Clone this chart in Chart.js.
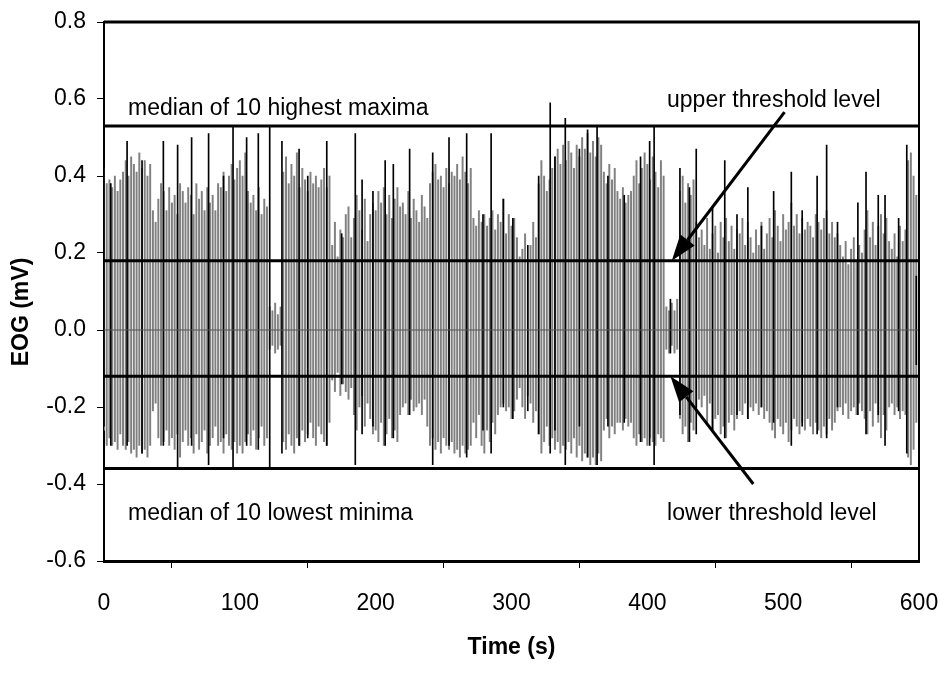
<!DOCTYPE html>
<html>
<head>
<meta charset="utf-8">
<script src="https://cdn.jsdelivr.net/npm/chart.js@4/dist/chart.umd.min.js"></script>
<style>
  body { margin: 0; background: #fff; }
  #wrap { width: 946px; height: 677px; position: relative; }
</style>
</head>
<body>
<div id="wrap"><canvas id="chart"></canvas></div>
<script>
// EOG trace (one reading every 2 s)
const STEP = 2;
const grayHi = [
  0.42,0.38,0.39,0.37,0.40,0.36,0.39,0.41,0.44,0.40,
  0.45,0.43,0.41,0.46,0.42,0.44,0.40,0.43,0.31,0.28,
  0.34,0.38,0.36,0.31,0.37,0.33,0.35,0.30,0.38,0.36,
  0.33,0.37,0.35,0.30,0.38,0.34,0.36,0.31,0.37,0.33,
  0.35,0.31,0.38,0.37,0.41,0.36,0.40,0.43,0.39,0.42,
  0.44,0.40,0.46,0.36,0.33,0.35,0.31,0.37,0.30,0.34,
  0.32,0.06,0.05,0.07,0.04,0.06,0.41,0.45,0.38,0.43,
  0.40,0.46,0.37,0.42,0.39,0.36,0.41,0.38,0.40,0.37,
  0.39,0.42,0.37,0.40,0.22,0.28,0.19,0.26,0.24,0.30,
  0.32,0.24,0.29,0.35,0.31,0.26,0.34,0.23,0.30,0.33,
  0.31,0.36,0.33,0.37,0.30,0.35,0.29,0.34,0.37,0.32,
  0.33,0.30,0.36,0.29,0.34,0.31,0.28,0.35,0.32,0.29,
  0.38,0.41,0.43,0.39,0.40,0.37,0.42,0.38,0.41,0.40,
  0.43,0.39,0.45,0.41,0.38,0.42,0.29,0.27,0.31,0.28,
  0.30,0.27,0.29,0.31,0.26,0.30,0.28,0.34,0.25,0.30,
  0.27,0.29,0.24,0.19,0.21,0.25,0.18,0.22,0.28,0.24,
  0.38,0.44,0.40,0.36,0.39,0.42,0.45,0.47,0.43,0.48,
  0.44,0.49,0.46,0.42,0.48,0.45,0.50,0.47,0.51,0.46,
  0.49,0.45,0.50,0.48,0.41,0.38,0.43,0.39,0.42,0.36,
  0.34,0.37,0.33,0.35,0.36,0.40,0.44,0.38,0.42,0.46,
  0.43,0.39,0.45,0.41,0.37,0.44,0.40,0.06,0.05,0.07,
  0.05,0.08,0.36,0.40,0.33,0.38,0.35,0.39,0.28,0.24,
  0.26,0.22,0.29,0.21,0.25,0.27,0.20,0.28,0.24,0.29,
  0.23,0.27,0.21,0.26,0.25,0.29,0.22,0.28,0.24,0.20,
  0.26,0.22,0.28,0.21,0.25,0.29,0.24,0.31,0.27,0.23,
  0.30,0.26,0.28,0.33,0.27,0.30,0.25,0.29,0.26,0.28,
  0.27,0.24,0.30,0.28,0.26,0.29,0.31,0.25,0.28,0.24,
  0.25,0.22,0.19,0.23,0.17,0.21,0.24,0.18,0.22,0.20,
  0.26,0.31,0.24,0.28,0.22,0.27,0.30,0.25,0.29,0.23,
  0.21,0.25,0.19,0.27,0.23,0.26,0.44,0.46,0.40,0.35,
  0.08
];
const grayLo = [
  -0.26,-0.30,-0.28,-0.30,-0.29,-0.31,-0.27,-0.30,-0.31,-0.29,
  -0.32,-0.31,-0.33,-0.30,-0.32,-0.31,-0.33,-0.30,-0.21,-0.19,
  -0.28,-0.30,-0.29,-0.26,-0.30,-0.28,-0.31,-0.27,-0.33,-0.29,
  -0.26,-0.30,-0.28,-0.32,-0.27,-0.31,-0.29,-0.26,-0.32,-0.30,
  -0.28,-0.25,-0.30,-0.29,-0.32,-0.27,-0.30,-0.31,-0.29,-0.32,
  -0.30,-0.32,-0.29,-0.27,-0.30,-0.26,-0.31,-0.28,-0.25,-0.30,
  -0.28,-0.05,-0.04,-0.06,-0.05,-0.04,-0.29,-0.31,-0.27,-0.30,
  -0.32,-0.28,-0.30,-0.26,-0.29,-0.27,-0.24,-0.28,-0.30,-0.25,
  -0.27,-0.29,-0.30,-0.24,-0.13,-0.16,-0.11,-0.17,-0.14,-0.16,
  -0.18,-0.15,-0.22,-0.26,-0.20,-0.17,-0.25,-0.19,-0.23,-0.27,
  -0.26,-0.29,-0.24,-0.30,-0.27,-0.23,-0.28,-0.26,-0.29,-0.22,
  -0.20,-0.19,-0.22,-0.18,-0.21,-0.20,-0.19,-0.22,-0.18,-0.25,
  -0.30,-0.28,-0.31,-0.29,-0.32,-0.28,-0.30,-0.31,-0.29,-0.32,
  -0.31,-0.33,-0.30,-0.32,-0.31,-0.30,-0.24,-0.28,-0.22,-0.30,
  -0.32,-0.26,-0.29,-0.24,-0.27,-0.22,-0.20,-0.19,-0.21,-0.20,
  -0.23,-0.21,-0.18,-0.15,-0.20,-0.23,-0.17,-0.19,-0.24,-0.21,
  -0.27,-0.32,-0.29,-0.25,-0.30,-0.28,-0.31,-0.29,-0.32,-0.30,
  -0.31,-0.29,-0.32,-0.28,-0.33,-0.30,-0.34,-0.32,-0.33,-0.35,
  -0.33,-0.35,-0.32,-0.34,-0.26,-0.23,-0.28,-0.25,-0.27,-0.24,
  -0.24,-0.26,-0.23,-0.25,-0.24,-0.28,-0.30,-0.27,-0.29,-0.28,
  -0.30,-0.28,-0.29,-0.30,-0.27,-0.28,-0.29,-0.05,-0.06,-0.04,
  -0.06,-0.05,-0.23,-0.27,-0.25,-0.29,-0.24,-0.26,-0.20,-0.18,
  -0.20,-0.17,-0.24,-0.19,-0.26,-0.23,-0.22,-0.27,-0.25,-0.28,
  -0.24,-0.22,-0.26,-0.23,-0.21,-0.22,-0.19,-0.23,-0.20,-0.21,
  -0.19,-0.22,-0.20,-0.23,-0.21,-0.24,-0.26,-0.28,-0.23,-0.25,
  -0.27,-0.24,-0.29,-0.26,-0.23,-0.25,-0.27,-0.24,-0.26,-0.23,
  -0.25,-0.27,-0.24,-0.26,-0.28,-0.25,-0.27,-0.23,-0.26,-0.24,
  -0.21,-0.20,-0.22,-0.19,-0.23,-0.21,-0.20,-0.22,-0.19,-0.21,
  -0.23,-0.27,-0.21,-0.25,-0.19,-0.24,-0.28,-0.22,-0.26,-0.20,
  -0.19,-0.22,-0.20,-0.23,-0.21,-0.22,-0.33,-0.35,-0.31,-0.24,
  -0.06
];

// darker single saccades drawn in black
const blackT  = [0, 5, 17, 28, 43.7, 54.2, 64.5, 77, 88, 95, 105, 113.6, 122, 131, 143.6, 150, 164, 175, 185, 190,
  198, 207, 213, 225, 242, 254, 267, 279, 285, 294, 301, 312, 320, 328.5, 332, 339.6, 350, 356, 363, 371,
  383, 395, 401.7, 405, 417, 424, 431, 436, 448, 457, 466, 474, 484, 493, 506, 514, 525, 532, 540, 555,
  561, 570, 575, 585, 591, 598];
const blackHi = [0.45, 0.38, 0.49, 0.44, 0.49, 0.48, 0.50, 0.51, 0.40, 0.53, 0.50, 0.51, 0.53, 0.49, 0.47, 0.40, 0.49, 0.25, 0.51, 0.39,
  0.36, 0.44, 0.43, 0.47, 0.46, 0.50, 0.51, 0.30, 0.51, 0.34, 0.29, 0.22, 0.40, 0.59, 0.45, 0.55, 0.47, 0.52, 0.53, 0.40,
  0.35, 0.45, 0.49, 0.53, 0.08, 0.42, 0.37, 0.47, 0.32, 0.44, 0.30, 0.37, 0.27, 0.36, 0.41, 0.31, 0.40, 0.48, 0.28, 0.33,
  0.41, 0.35, 0.35, 0.29, 0.48, 0.14];
const blackLo = [-0.25, -0.30, -0.30, -0.32, -0.30, -0.36, -0.30, -0.35, -0.28, -0.36, -0.30, -0.31, -0.36, -0.32, -0.30, -0.28, -0.30, -0.14, -0.35, -0.27,
  -0.25, -0.30, -0.28, -0.22, -0.35, -0.30, -0.33, -0.26, -0.32, -0.20, -0.23, -0.21, -0.27, -0.32, -0.26, -0.35, -0.25, -0.33, -0.35, -0.25,
  -0.24, -0.29, -0.30, -0.35, -0.06, -0.22, -0.29, -0.27, -0.26, -0.28, -0.22, -0.23, -0.20, -0.24, -0.30, -0.25, -0.27, -0.28, -0.20, -0.22,
  -0.27, -0.22, -0.30, -0.21, -0.32, -0.09];

// reference levels (mV)
const maxMedian = 0.53;
const upperThreshold = 0.18;
const lowerThreshold = -0.12;
const minMedian = -0.36;

const xTicks = [0, 100, 200, 300, 400, 500, 600];
const yTicks = [-0.6, -0.4, -0.2, 0.0, 0.2, 0.4, 0.6, 0.8];

const FONT = 'Arial, "Liberation Sans", sans-serif';

const grayData = grayHi.map((hi, i) => ({ x: i * STEP, y: [grayLo[i], hi] }));
const blackData = blackT.map((t, i) => ({ x: t, y: [blackLo[i], blackHi[i]] }));
const level = v => [{ x: xTicks[0], y: v }, { x: xTicks[xTicks.length - 1], y: v }];

// text and arrows, placed in data units
const notes = [
  { text: 'median of 10 highest maxima', t: 17.7, v: 0.575 },
  { text: 'upper threshold level', t: 414.5, v: 0.595 },
  { text: 'median of 10 lowest minima', t: 17.7, v: -0.478 },
  { text: 'lower threshold level', t: 414.5, v: -0.478 }
];
const arrows = [
  { from: [501, 0.566], to: [418, upperThreshold] },
  { from: [478, -0.40], to: [417, lowerThreshold] }
];

const overlay = {
  id: 'overlay',
  afterDatasetsDraw(chart) {
    const { ctx, chartArea: a, scales: { x, y } } = chart;
    ctx.save();
    ctx.strokeStyle = '#000';
    ctx.fillStyle = '#000';

    // top and right frame
    ctx.lineWidth = 3;
    ctx.beginPath(); ctx.moveTo(a.left, a.top); ctx.lineTo(a.right + 1, a.top); ctx.stroke();
    ctx.lineWidth = 2;
    ctx.beginPath(); ctx.moveTo(a.right, a.top); ctx.lineTo(a.right, a.bottom); ctx.stroke();

    ctx.font = '23px ' + FONT;
    ctx.textBaseline = 'middle';
    ctx.textAlign = 'left';
    notes.forEach(n => ctx.fillText(n.text, x.getPixelForValue(n.t), y.getPixelForValue(n.v)));

    arrows.forEach(ar => {
      const x1 = x.getPixelForValue(ar.from[0]), y1 = y.getPixelForValue(ar.from[1]);
      const x2 = x.getPixelForValue(ar.to[0]), y2 = y.getPixelForValue(ar.to[1]);
      const ang = Math.atan2(y2 - y1, x2 - x1);
      const len = 26, half = 9;
      const bx = x2 - len * Math.cos(ang), by = y2 - len * Math.sin(ang);
      ctx.lineWidth = 3;
      ctx.beginPath(); ctx.moveTo(x1, y1); ctx.lineTo(bx, by); ctx.stroke();
      ctx.beginPath();
      ctx.moveTo(x2, y2);
      ctx.lineTo(bx + half * Math.sin(ang), by - half * Math.cos(ang));
      ctx.lineTo(bx - half * Math.sin(ang), by + half * Math.cos(ang));
      ctx.closePath();
      ctx.fill();
    });

    // axis titles
    ctx.font = 'bold 23px ' + FONT;
    ctx.textAlign = 'center';
    ctx.fillText('Time (s)', (a.left + a.right) / 2, 648);
    ctx.translate(22, 312);
    ctx.rotate(-Math.PI / 2);
    ctx.fillText('EOG (mV)', 0, 0);
    ctx.restore();
  }
};

new Chart(document.getElementById('chart'), {
  type: 'bar',
  data: {
    datasets: [
      { type: 'line', data: level(maxMedian), borderColor: '#000', borderWidth: 3, pointRadius: 0, order: 0 },
      { type: 'line', data: level(upperThreshold), borderColor: '#000', borderWidth: 3, pointRadius: 0, order: 0 },
      { type: 'line', data: level(lowerThreshold), borderColor: '#000', borderWidth: 3, pointRadius: 0, order: 0 },
      { type: 'line', data: level(minMedian), borderColor: '#000', borderWidth: 3, pointRadius: 0, order: 0 },
      { type: 'line', data: level(0), borderColor: '#555', borderWidth: 1, pointRadius: 0, order: 1 },
      { data: blackData, backgroundColor: '#000', barThickness: 1, grouped: false, order: 2 },
      { data: grayData, backgroundColor: '#808080', barThickness: 1.3, grouped: false, order: 3 }
    ]
  },
  options: {
    responsive: true,
    maintainAspectRatio: false,
    animation: false,
    layout: { padding: { left: 0, top: 22, right: 27, bottom: 0 } },
    plugins: { legend: { display: false }, tooltip: { enabled: false } },
    scales: {
      x: {
        type: 'linear', min: 0, max: 600, offset: false,
        afterBuildTicks: s => { s.ticks = xTicks.map(v => ({ value: v })); },
        afterFit: s => { s.height = 116; s.paddingLeft = 0; s.paddingRight = 0; },
        grid: { drawOnChartArea: false, tickLength: 7, color: '#000' },
        border: { color: '#000', width: 3 },
        ticks: { color: '#000', font: { size: 23, family: FONT }, padding: 22, maxRotation: 0 }
      },
      y: {
        min: -0.6, max: 0.8,
        afterBuildTicks: s => { s.ticks = yTicks.map(v => ({ value: v })); },
        afterFit: s => { s.width = 104; s.paddingTop = 0; s.paddingBottom = 0; },
        grid: { drawOnChartArea: false, tickLength: 7, color: '#000' },
        border: { color: '#000', width: 2 },
        ticks: {
          color: '#000', font: { size: 23, family: FONT }, padding: 11,
          callback: v => (Math.abs(v) < 1e-9 ? 0 : v).toFixed(1)
        }
      }
    }
  },
  plugins: [overlay]
});
</script>
</body>
</html>
